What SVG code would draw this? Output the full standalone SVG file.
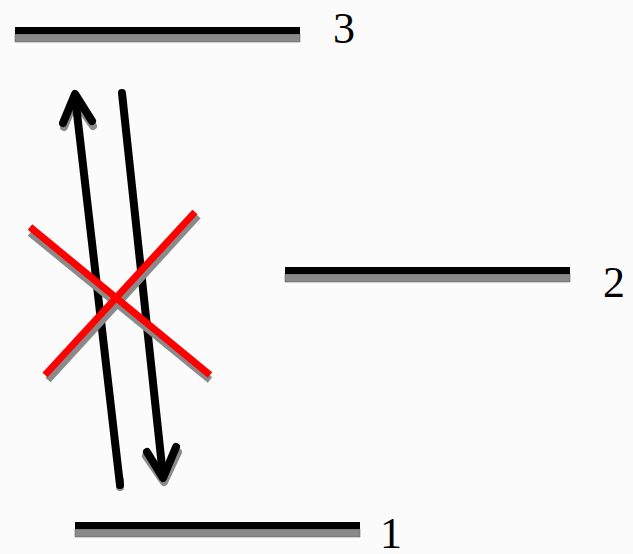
<svg xmlns="http://www.w3.org/2000/svg" width="633" height="554" viewBox="0 0 633 554">
<style>
.lvl{fill:#000}
.sh{fill:#8a8a8a;stroke:#555;stroke-width:0.5}
.lbl{font-family:"Liberation Serif",serif;font-size:44px;fill:#000}
.ar{fill:none;stroke:#000;stroke-width:8;stroke-linecap:round;stroke-linejoin:round}
.ars{fill:none;stroke:#8a8a8a;stroke-width:8;stroke-linecap:round;stroke-linejoin:round}
.x{stroke:#ff0000;stroke-width:7;fill:none}
.xs{stroke:#8a8a8a;stroke-width:7;fill:none}
</style>
<rect width="633" height="554" fill="#fbfbfb"/>
<g id="level3">
<rect class="sh" x="15" y="34" width="285" height="8"/>
<rect class="lvl" x="15" y="27" width="285" height="7"/>
<text class="lbl" x="333" y="43">3</text>
</g>
<g id="level2">
<rect class="sh" x="285" y="274" width="285" height="8"/>
<rect class="lvl" x="285" y="267" width="285" height="7"/>
<text class="lbl" x="603" y="297">2</text>
</g>
<g id="level1">
<rect class="sh" x="75" y="529" width="285" height="8"/>
<rect class="lvl" x="75" y="522" width="285" height="7"/>
<text class="lbl" x="380" y="548">1</text>
</g>
<g id="connectors">
<g id="absorb">
<polyline class="ars" points="64,127 75,100 93,126"/>
<line class="ars" x1="120" y1="487" x2="120" y2="480"/>
<line class="ar" x1="120" y1="485" x2="75" y2="96"/>
<polyline class="ar" points="63,123 75,94 92,121"/>
</g>
<g id="emit">
<polyline class="ars" points="146,456 164,482 178,452"/>
<line class="ar" x1="122" y1="93" x2="163" y2="476"/>
<polyline class="ar" points="147,452 163,478 176,447"/>
</g>
<g id="cross">
<line class="xs" x1="30" y1="233" x2="210" y2="380"/>
<line class="xs" x1="198" y1="216" x2="48" y2="380"/>
<line class="x" x1="30" y1="227" x2="210" y2="375"/>
<line class="x" x1="195" y1="212" x2="45" y2="375"/>
</g>
</g>
</svg>
